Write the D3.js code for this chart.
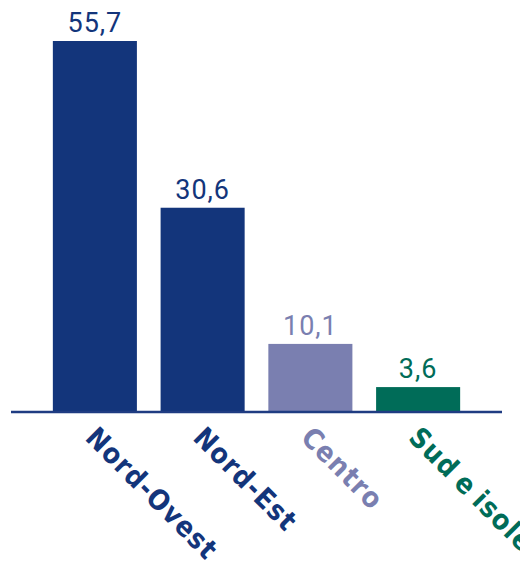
<!DOCTYPE html>
<html>
<head>
<meta charset="utf-8">
<script src="https://cdn.jsdelivr.net/npm/d3@7"></script>
<style>
  html, body { margin: 0; padding: 0; background: #ffffff; }
  svg { display: block; }
</style>
</head>
<body>
<div id="chart"></div>
<script>
// Ripartizione per area geografica (valori percentuali)
const regions = ["Nord-Ovest", "Nord-Est", "Centro", "Sud e isole"];
const shares = [55.7, 30.6, 10.1, 3.6];
const valueLabels = ["55,7", "30,6", "10,1", "3,6"];
const regionColors = ["#13357b", "#13357b", "#7a7fb0", "#006c58"];

const width = 520, height = 562;
const baseY = 411;

const svg = d3.select("#chart").append("svg")
  .attr("width", width)
  .attr("height", height);

const x = d3.scaleBand()
  .domain(regions)
  .range([41, 472])
  .paddingInner(0.22)
  .paddingOuter(0.11);

const y = d3.scaleLinear()
  .domain([0, 55.7])
  .range([baseY, 41]);

const data = regions.map((r, i) => ({
  region: r, value: shares[i], label: valueLabels[i], color: regionColors[i]
}));

// bars
svg.selectAll("rect.bar")
  .data(data)
  .join("rect")
  .attr("class", "bar")
  .attr("x", d => x(d.region))
  .attr("y", d => y(d.value))
  .attr("width", x.bandwidth())
  .attr("height", d => baseY - y(d.value))
  .attr("fill", d => d.color);

// value labels above bars
svg.selectAll("text.value")
  .data(data)
  .join("text")
  .attr("class", "value")
  .attr("x", d => x(d.region) + x.bandwidth() / 2)
  .attr("y", d => y(d.value) - 9)
  .attr("text-anchor", "middle")
  .attr("font-family", "Roboto, sans-serif")
  .attr("font-size", 27)
  .attr("letter-spacing", 1)
  .attr("fill", d => d.color)
  .text(d => d.label);

// baseline
svg.append("line")
  .attr("x1", 11)
  .attr("x2", 502)
  .attr("y1", baseY + 1)
  .attr("y2", baseY + 1)
  .attr("stroke", "#1f3c82")
  .attr("stroke-width", 2.5);

// rotated category labels
svg.selectAll("text.cat")
  .data(data)
  .join("text")
  .attr("class", "cat")
  .attr("transform", d => `translate(${x(d.region) + x.bandwidth() / 2 - 11},${baseY + 28}) rotate(45)`)
  .attr("font-family", "'DejaVu Sans Condensed', 'DejaVu Sans', sans-serif")
  .attr("font-weight", "bold")
  .attr("font-size", 28)
  .attr("letter-spacing", 1.2)
  .attr("word-spacing", -3)
  .attr("fill", d => d.color)
  .text(d => d.region);
</script>
</body>
</html>
